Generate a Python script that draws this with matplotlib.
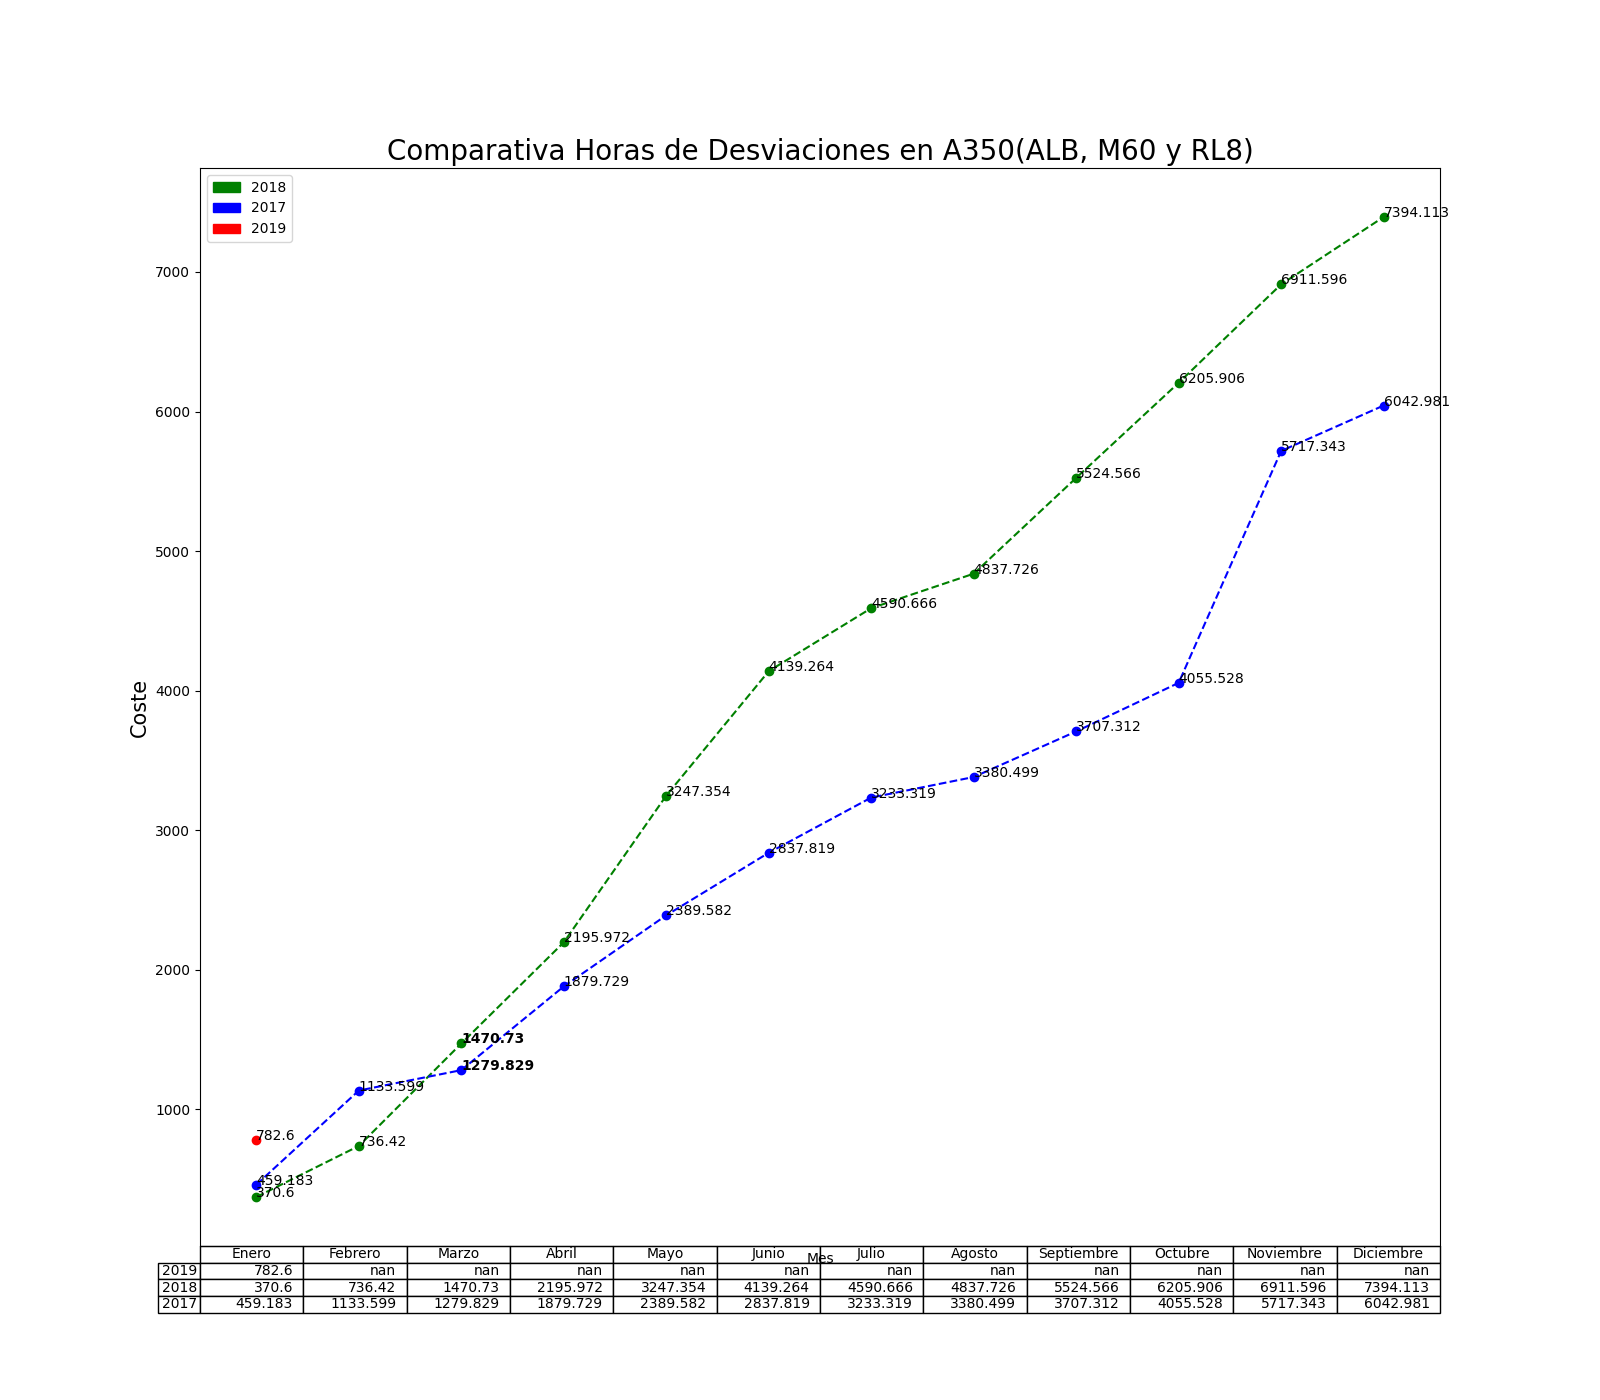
import numpy as np
import matplotlib
matplotlib.use("Agg")
import matplotlib.pyplot as plt
import matplotlib.patches as mpatches

meses = ["Enero", "Febrero", "Marzo", "Abril", "Mayo", "Junio", "Julio",
         "Agosto", "Septiembre", "Octubre", "Noviembre", "Diciembre"]
v2019 = [782.6] + [np.nan] * 11
v2018 = [370.6, 736.42, 1470.73, 2195.972, 3247.354, 4139.264, 4590.666,
         4837.726, 5524.566, 6205.906, 6911.596, 7394.113]
v2017 = [459.183, 1133.599, 1279.829, 1879.729, 2389.582, 2837.819, 3233.319,
         3380.499, 3707.312, 4055.528, 5717.343, 6042.981]

fig, ax = plt.subplots(figsize=(16, 14), dpi=100)
fig.subplots_adjust(left=0.125, right=0.9, top=0.88, bottom=0.11)
x = np.arange(len(meses))

ax.plot(x, v2018, "o--", color="green")
ax.plot(x, v2017, "o--", color="blue")
ax.plot(x, v2019, "o--", color="red")

# etiquetas de valores (Marzo en negrita)
for serie in (v2018, v2017, v2019):
    for i, v in enumerate(serie):
        if np.isnan(v):
            continue
        peso = "bold" if i == 2 else "normal"
        ax.text(x[i], v, str(v), fontsize=10, fontweight=peso)

filas = [[str(v) for v in s] for s in (v2019, v2018, v2017)]
ax.table(cellText=filas, rowLabels=["2019", "2018", "2017"],
         colLabels=meses, loc="bottom", cellLoc="right")
ax.set_xticks([])
ax.set_xlabel("Mes")
ax.set_ylabel("Coste", fontsize=15)
ax.set_title("Comparativa Horas de Desviaciones en A350(ALB, M60 y RL8)",
             fontsize=20)
ax.legend(handles=[mpatches.Patch(color="green", label="2018"),
                   mpatches.Patch(color="blue", label="2017"),
                   mpatches.Patch(color="red", label="2019")],
          loc="upper left")

fig.savefig("out.png")
